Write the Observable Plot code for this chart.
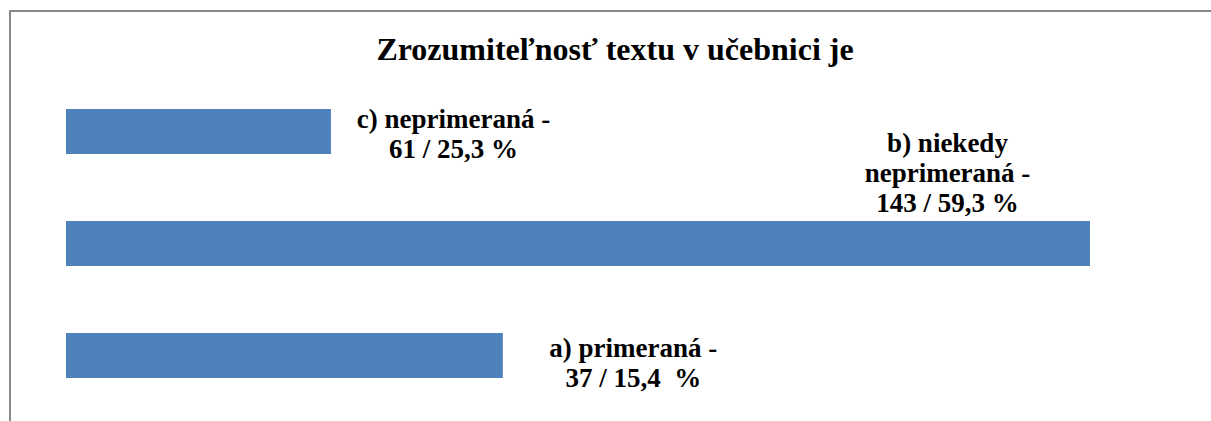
<!DOCTYPE html>
<html>
<head>
<meta charset="utf-8">
<script src="https://cdn.jsdelivr.net/npm/d3@7"></script>
<script src="https://cdn.jsdelivr.net/npm/@observablehq/plot@0.6"></script>
<style>
  html, body { margin: 0; padding: 0; background: #fff; }
  #wrap { position: relative; width: 1211px; height: 421px; overflow: hidden; background: #fff; }
  #frame { position: absolute; left: 9px; top: 10px; width: 1400px; height: 600px; border: 2px solid #888; box-sizing: border-box; }
  #title { position: absolute; left: 0; width: 1230px; top: 31px; text-align: center;
           font-family: "Liberation Serif", "Times New Roman", "DejaVu Serif", serif; font-weight: bold; font-size: 32px; color: #000; }
  #chart { position: absolute; left: 0; top: 0; }
</style>
</head>
<body>
<div id="wrap">
  <div id="frame"></div>
  <div id="chart"></div>
  <div id="title">Zrozumiteľnosť textu v učebnici je</div>
</div>
<script>
// categories, top to bottom as drawn
const categories = ["c", "b", "a"];
// bar lengths as drawn in the picture
const barValues = [37, 143, 61];
// data label texts as printed
const labels = [
  "c) neprimeraná -\n61 / 25,3 %",
  "b) niekedy\nneprimeraná -\n143 / 59,3 %",
  "a) primeraná -\n37 / 15,4\u00a0 %"
];

const rows = categories.map((c, i) => ({cat: c, value: barValues[i], label: labels[i]}));

const labelStyle = {
  fontFamily: "Liberation Serif, Times New Roman, DejaVu Serif, serif",
  fontWeight: "bold",
  fontSize: 27,
  lineHeight: 1.12,
  fill: "#000",
  textAnchor: "middle",
  lineAnchor: "bottom"
};

const plot = Plot.plot({
  width: 1211,
  height: 421,
  marginLeft: 66,
  marginRight: 121,
  marginTop: 108,
  marginBottom: 43,
  x: {domain: [0, 143], axis: null},
  y: {domain: categories, axis: null, paddingInner: 0.6, paddingOuter: 0},
  style: {background: "transparent", overflow: "visible"},
  marks: [
    Plot.barX(rows, {y: "cat", x: "value", fill: "#4F81BD"}),
    Plot.text(rows.filter(d => d.cat === "c"), {y: "cat", x: "value", text: "label", dx: 122, dy: 26, ...labelStyle}),
    Plot.text(rows.filter(d => d.cat === "b"), {y: "cat", x: "value", text: "label", dx: -143, dy: -32, ...labelStyle}),
    Plot.text(rows.filter(d => d.cat === "a"), {y: "cat", x: "value", text: "label", dx: 130, dy: 31, ...labelStyle})
  ]
});
document.getElementById("chart").appendChild(plot);
</script>
</body>
</html>
